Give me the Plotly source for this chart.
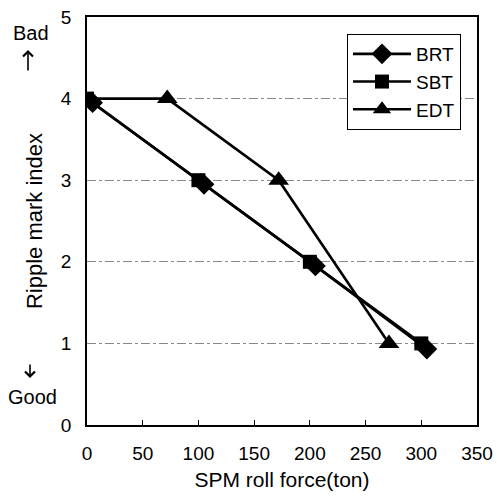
import plotly.graph_objects as go

brt_x = [5, 105, 205, 305]
brt_y = [3.95, 2.95, 1.95, 0.93]
sbt_x = [0, 100, 200, 300]
sbt_y = [4, 3, 2, 1]
edt_x = [0, 72, 172, 271]
edt_y = [4, 4, 3, 1]

x_ticks = [0, 50, 100, 150, 200, 250, 300, 350]
y_ticks = [0, 1, 2, 3, 4, 5]

FONT = "Liberation Sans, Arial, sans-serif"
L, R, T, B = 87, 20, 17, 72
PW, PH = 497 - L - R, 497 - T - B
LW = 2.6

fig = go.Figure()
fig.add_trace(go.Scatter(x=brt_x, y=brt_y, name="BRT", mode="lines+markers",
                         line=dict(color="black", width=LW),
                         marker=dict(symbol="diamond", size=16, color="black")))
fig.add_trace(go.Scatter(x=sbt_x, y=sbt_y, name="SBT", mode="lines+markers",
                         line=dict(color="black", width=LW),
                         marker=dict(symbol="square", size=14, color="black")))
fig.add_trace(go.Scatter(x=edt_x[1:], y=edt_y[1:], name="EDT", mode="lines+markers",
                         line=dict(color="black", width=LW),
                         marker=dict(symbol="triangle-up", size=18, color="black")))
fig.add_trace(go.Scatter(x=edt_x[:2], y=edt_y[:2], mode="lines", showlegend=False,
                         line=dict(color="black", width=LW)))

fig.update_layout(
    width=497, height=497,
    margin=dict(l=L, r=R, t=T, b=B),
    paper_bgcolor="white", plot_bgcolor="white",
    font=dict(family=FONT, size=19, color="black"),
    showlegend=True,
    legend=dict(x=(347 - L) / PW, y=(425 - 34) / PH, xanchor="left", yanchor="top",
                bordercolor="black", borderwidth=1, bgcolor="white",
                font=dict(size=19), itemwidth=58, tracegroupgap=0),
    xaxis=dict(range=[0, 350], tickvals=x_ticks, showgrid=False, zeroline=False,
               showline=True, linecolor="black", linewidth=1.5, mirror=True,
               ticks="inside", ticklen=5, tickcolor="black", ticklabelstandoff=10,
               tickfont=dict(size=19), automargin=False,
               title=dict(text="SPM roll force(ton)", font=dict(size=21), standoff=10)),
    yaxis=dict(range=[0, 5], tickvals=y_ticks, showgrid=True, gridcolor="#888",
               griddash="dashdot", gridwidth=1, zeroline=False,
               showline=True, linecolor="black", linewidth=1.5, mirror=True,
               ticks="", tickfont=dict(size=19), ticklabelstandoff=10, automargin=False,
               title=dict(text="Ripple mark index", font=dict(size=22), standoff=12)),
)

for t, px, py in [("Bad", 31, 33), ("Good", 32, 397)]:
    fig.add_annotation(text=t, xref="paper", yref="paper",
                       x=(px - L) / PW, y=(425 - py) / PH,
                       showarrow=False, font=dict(size=20, family=FONT),
                       xanchor="center", yanchor="middle")

# direction arrows: (head x, head y, tail offset in px)
for hx, hy, off in [(28, 50, 22), (30, 378, -15)]:
    fig.add_annotation(text="", xref="paper", yref="paper",
                       x=(hx - L) / PW, y=(425 - hy) / PH,
                       ax=0, ay=off, showarrow=True, arrowhead=4,
                       arrowsize=1.2, arrowwidth=1.6, arrowcolor="black")

fig.write_html("out.html")
